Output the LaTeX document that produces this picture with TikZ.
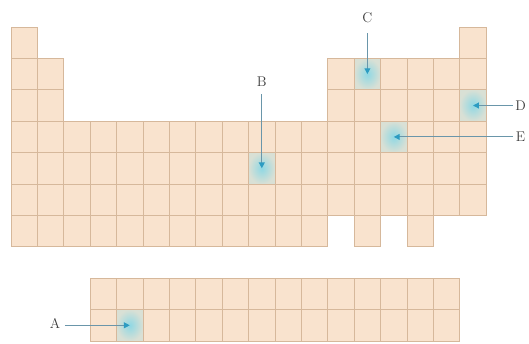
\documentclass[tikz,border=0pt]{standalone}
\usetikzlibrary{arrows.meta}
\definecolor{peach}{HTML}{F9E3CE}
\definecolor{gridtan}{HTML}{D6B89B}
\definecolor{glow}{HTML}{8FD8E4}
\definecolor{pointerline}{HTML}{6A96AA}
\definecolor{pointerhead}{HTML}{2C9CC2}
\definecolor{labelgray}{HTML}{3C3C3C}
\tikzset{
  cell/.style={fill=peach, draw=gridtan, line width=0.7pt},
  hicell/.style={draw=gridtan, line width=0.7pt, minimum width=0.792cm, minimum height=0.942cm,
    inner sep=0pt, shading=radial, inner color=glow, outer color=glow!30!peach},
  tag/.style={text=labelgray, font=\large, inner sep=1pt},
  pointer/.style={draw=pointerline, line width=1pt,
    -{Triangle[length=5pt, width=5pt, fill=pointerhead, color=pointerhead]}}
}
\begin{document}
\begin{tikzpicture}[x=0.792cm, y=-0.942cm]
  \useasboundingbox (-0.4167,-0.860) rectangle (19.621,10.064);
  % main block, row by row
  \foreach \c in {0,17} \draw[cell] (\c,0) rectangle ++(1,1);
  \foreach \r in {1,2}
    \foreach \c in {0,1,12,13,14,15,16,17} \draw[cell] (\c,\r) rectangle ++(1,1);
  \foreach \r in {3,4,5}
    \foreach \c in {0,...,17} \draw[cell] (\c,\r) rectangle ++(1,1);
  \foreach \c in {0,...,11,13,15} \draw[cell] (\c,6) rectangle ++(1,1);
  % lanthanides and actinides
  \foreach \r in {8,9}
    \foreach \c in {3,...,16} \draw[cell] (\c,\r) rectangle ++(1,1);
  % marked cells
  \node[hicell] (cellA) at (4.5,9.5) {};
  \node[hicell] (cellB) at (9.5,4.5) {};
  \node[hicell] (cellC) at (13.5,1.5) {};
  \node[hicell] (cellD) at (17.5,2.5) {};
  \node[hicell] (cellE) at (14.5,3.5) {};
  % labels
  \node[tag] (labA) at (1.67,9.45) {A};
  \node[tag] (labB) at (9.5,1.75) {B};
  \node[tag] (labC) at (13.5,-0.29) {C};
  \node[tag] (labD) at (19.3,2.5) {D};
  \node[tag] (labE) at (19.3,3.5) {E};
  % arrows
  \draw[pointer] (labA.east) ++(0.12,0.05) coordinate (tailA) -- (cellA.center |- tailA);
  \draw[pointer] (labB.south) ++(0,0.2) coordinate (tailB) -- (cellB.center);
  \draw[pointer] (labC.south) ++(0,0.28) coordinate (tailC) -- (cellC.center);
  \draw[pointer] (labD.west) ++(-0.05,0) coordinate (tailD) -- (cellD.center);
  \draw[pointer] (labE.west) ++(-0.05,0) coordinate (tailE) -- (cellE.center);
\end{tikzpicture}
\end{document}
